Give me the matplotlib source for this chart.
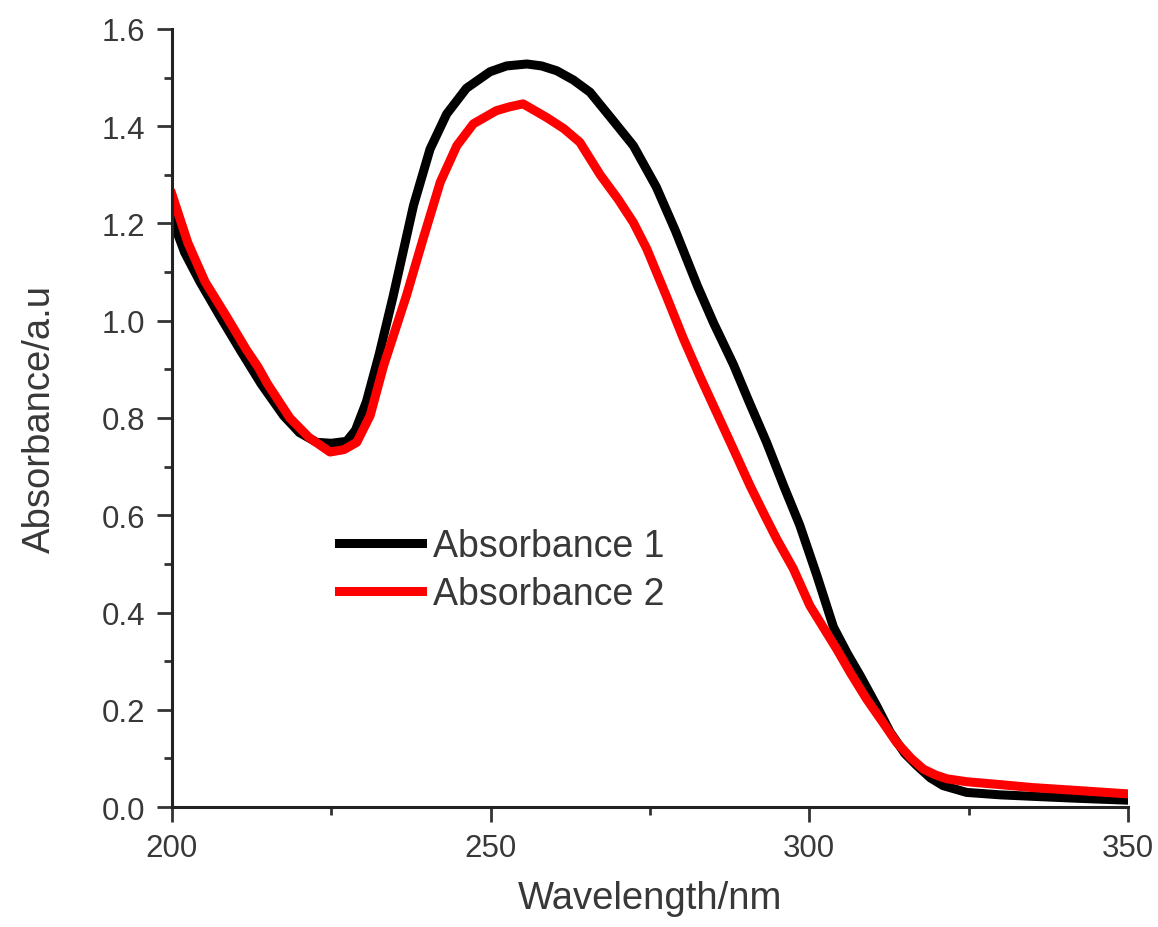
import numpy as np
import matplotlib
matplotlib.use("Agg")
import matplotlib.pyplot as plt
from matplotlib.ticker import MultipleLocator

wl_1 = [200, 202, 204.4, 207.5, 210.7, 214, 217.5, 220, 222.7, 225, 227.4, 228.8,
        230.5, 232.5, 234.7, 237.9, 240.5, 243.1, 246.2, 249.9, 252.5, 255.7, 258,
        260.4, 263, 265.6, 269.2, 272.4, 276.0, 279.0, 282.5, 285.0, 288.1, 290.5,
        293.3, 296.0, 298.5, 301.2, 303.8, 306.0, 308.0, 310.5, 312.7, 315.0, 316.9,
        319.0, 321.0, 324.7, 330.0, 335.0, 342.0, 350.0]
abs_1 = [1.21, 1.14, 1.08, 1.01, 0.94, 0.87, 0.805, 0.77, 0.75, 0.748, 0.752, 0.775,
         0.833, 0.93, 1.05, 1.237, 1.353, 1.425, 1.478, 1.512, 1.524, 1.528, 1.524,
         1.514, 1.495, 1.47, 1.412, 1.36, 1.275, 1.185, 1.07, 0.995, 0.91, 0.835,
         0.75, 0.66, 0.58, 0.476, 0.37, 0.315, 0.27, 0.21, 0.154, 0.11, 0.085,
         0.06, 0.044, 0.030, 0.025, 0.022, 0.018, 0.014]

wl_2 = [200, 202.5, 205.2, 208.5, 211.7, 213.5, 215, 218.5, 221.5, 224.8, 227, 229,
        231.1, 233.2, 236.8, 239.4, 242.1, 244.7, 247.3, 250.9, 253, 255.1, 258.8,
        261.5, 264.0, 267.2, 270, 272.4, 274.5, 277.6, 280.2, 282.8, 285.5, 288.1,
        290.7, 293, 294.9, 297.5, 300.1, 304.3, 306.5, 309.0, 311.5, 313.7, 316.0,
        317.9, 319.8, 321.6, 324.7, 330.0, 335.0, 342.0, 350.0]
abs_2 = [1.26, 1.16, 1.08, 1.01, 0.94, 0.905, 0.87, 0.80, 0.76, 0.73, 0.735, 0.75,
         0.805, 0.907, 1.052, 1.168, 1.285, 1.36, 1.405, 1.432, 1.44, 1.446, 1.418,
         1.395, 1.367, 1.30, 1.25, 1.202, 1.148, 1.05, 0.965, 0.887, 0.81, 0.736,
         0.661, 0.60, 0.551, 0.49, 0.414, 0.325, 0.275, 0.222, 0.175, 0.133, 0.10,
         0.078, 0.066, 0.058, 0.052, 0.046, 0.040, 0.034, 0.027]

text_col = "#383838"
plt.rcParams['font.family'] = ['Liberation Sans', 'DejaVu Sans']

fig = plt.figure(figsize=(11.58, 9.28), dpi=100)
ax = fig.add_axes([0.1485, 0.1293, 0.8255, 0.8384])

ax.plot(wl_1, abs_1, color="black", lw=6.5, solid_joinstyle="round", label="Absorbance 1")
ax.plot(wl_2, abs_2, color="#ff0000", lw=6.5, solid_joinstyle="round", label="Absorbance 2")

ax.set_xlim(200, 350)
ax.set_ylim(0, 1.6)
ax.xaxis.set_major_locator(MultipleLocator(50))
ax.xaxis.set_minor_locator(MultipleLocator(25))
ax.yaxis.set_major_locator(MultipleLocator(0.2))
ax.yaxis.set_minor_locator(MultipleLocator(0.1))
ax.yaxis.set_major_formatter(matplotlib.ticker.FormatStrFormatter("%.1f"))

for side in ["top", "right"]:
    ax.spines[side].set_visible(False)
for side in ["left", "bottom"]:
    ax.spines[side].set_linewidth(2.2)
    ax.spines[side].set_color("#222222")

ax.tick_params(which="major", direction="out", length=11, width=2, color="#333333",
               labelsize=22.5, labelcolor=text_col, pad=8)
ax.tick_params(which="minor", direction="out", length=6, width=2, color="#333333")

ax.set_xlabel("Wavelength/nm", fontsize=27.5, color=text_col, labelpad=12)
ax.set_ylabel("Absorbance/a.u", fontsize=27.5, color=text_col, labelpad=32)

leg = ax.legend(loc="upper left", bbox_to_anchor=(0.175, 0.358), frameon=False,
                fontsize=27, handlelength=2.2, handletextpad=0.3, labelspacing=0.3,
                borderpad=0, borderaxespad=0)
for t in leg.get_texts():
    t.set_color(text_col)

fig.savefig("out.png", dpi=100)
plt.close()
